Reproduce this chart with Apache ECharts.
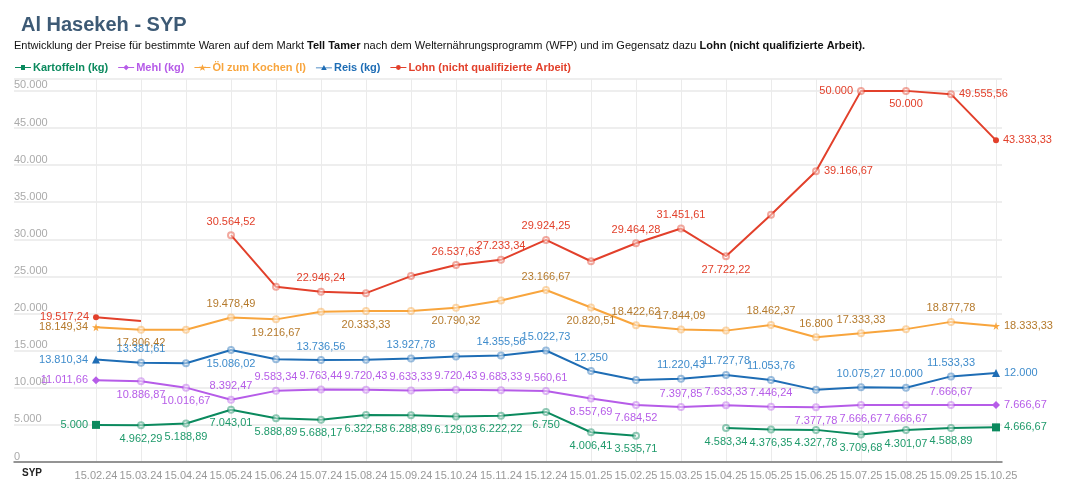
<!DOCTYPE html>
<html><head><meta charset="utf-8">
<script src="https://cdn.jsdelivr.net/npm/echarts@6/dist/echarts.min.js"></script>
<style>html,body{margin:0;padding:0;background:#fff}#c{width:1080px;height:491px}</style>
</head><body><div id="c"></div>
<script>
const categories = ['15.02.24','15.03.24','15.04.24','15.05.24','15.06.24','15.07.24','15.08.24','15.09.24','15.10.24','15.11.24','15.12.24','15.01.25','15.02.25','15.03.25','15.04.25','15.05.25','15.06.25','15.07.25','15.08.25','15.09.25','15.10.25'];
const kartoffeln = [5000,4962.29,5188.89,7043.01,5888.89,5688.17,6322.58,6288.89,6129.03,6222.22,6750,4006.41,3535.71,null,4583.34,4376.35,4327.78,3709.68,4301.07,4588.89,4666.67];
const mehl = [11011.66,10886.87,10016.67,8392.47,9583.34,9763.44,9720.43,9633.33,9720.43,9683.33,9560.61,8557.69,7684.52,7397.85,7633.33,7446.24,7377.78,7666.67,7666.67,7666.67,7666.67];
const oel = [18149.34,17806.42,17806,19478.49,19216.67,20250,20333.33,20333,20790.32,21770,23166.67,20820.51,18422.62,17844.09,17700,18462.37,16800,17333.33,17900,18877.78,18333.33];
const reis = [13810.34,13381.61,13300,15086.02,13850,13736.56,13780,13927.78,14230,14355.56,15022.73,12250,11050,11220.43,11727.78,11053.76,9720,10075.27,10000,11533.33,12000];
const lohn = [19517.24,19000,null,30564.52,23600,22946.24,22750,25050,26537.63,27233.34,29924.25,27050,29464.28,31451.61,27722.22,33300,39166.67,50000,50000,49555.56,43333.33];
// label placement per point ('' = no label)
const posK = ['l','b','b','b','b','b','b','b','b','b','b','b','b','','b','b','b','b','b','b','r'];
const posM = ['l','b','b','t','t','t','t','t','t','t','t','b','b','t','t','t','b','b','b','t','r'];
const posO = ['l','b','','t','b','','b','','b','','t','b','t','t','','t','t','t','','t','r'];
const posR = ['l','t','','b','','t','','t','','t','t','t','','t','t','t','','t','t','t','r'];
const posL = ['l','','','t','','t','','','t','t','t','','t','t','b','','r','l','b','r','r'];

function fmt(v){
  const neg=v<0; v=Math.abs(v);
  let s = (Math.round(v*100)/100).toFixed(2);
  let [i,d]=s.split('.');
  i=i.replace(/\B(?=(\d{3})+(?!\d))/g,'.');
  return (neg?'-':'')+i+(d==='00'?'':','+d);
}
const P={t:'top',b:'bottom',l:'left',r:'right'};
function build(vals,pos,lineColor,labelColor,endSym){
  return vals.map((v,i)=>{
    if(v==null) return null;
    const o={value:v};
    const p=pos[i];
    o.label={show:!!p,position:P[p]||'top',color:labelColor,opacity:1};
    if(i===0||i===vals.length-1){o.symbol=endSym;o.symbolSize=endSym==='circle'?6:8;o.itemStyle={color:lineColor,opacity:1};}
    else if(i===1 && vals[2]==null){o.symbol='none';}
    return o;
  });
}
const LINE='M0,9L40,9L40,11L0,11Z ';
const icons={
  rect:'path://'+LINE+'M15,4L25,4L25,16L15,16Z',
  diamond:'path://'+LINE+'M20,3L27,10L20,17L13,10Z',
  star:'path://'+LINE+'M20,2L22.5,8L29,8L24,12L26,18L20,14.5L14,18L16,12L11,8L17.5,8Z',
  triangle:'path://'+LINE+'M20,3L27,15L13,15Z',
  circle:'path://'+LINE+'M20,4A6,6 0 1,1 19.99,4Z'
};
const STAR='path://M50,0L61,35L98,35L68,57L79,91L50,70L21,91L32,57L2,35L39,35Z';
const defs=[
  {name:'Kartoffeln (kg)',d:kartoffeln,p:posK,c:'#0b8a5e',lc:'#1f9a6b',s:'rect',i:icons.rect},
  {name:'Mehl (kg)',d:mehl,p:posM,c:'#b65ce8',lc:'#b65ce8',s:'diamond',i:icons.diamond},
  {name:'Öl zum Kochen (l)',d:oel,p:posO,c:'#f8a53d',lc:'#b57a2c',s:STAR,i:icons.star},
  {name:'Reis (kg)',d:reis,p:posR,c:'#1e6db5',lc:'#3f8ccc',s:'triangle',i:icons.triangle},
  {name:'Lohn (nicht qualifizierte Arbeit)',d:lohn,p:posL,c:'#e2402b',lc:'#e2402b',s:'circle',i:icons.circle}
];
const series=defs.map(s=>({
  name:s.name,type:'line',xAxisIndex:1,yAxisIndex:1,
  data:build(s.d,s.p,s.c,s.lc,s.s),
  symbol:'emptyCircle',symbolSize:6,showAllSymbol:true,
  itemStyle:{color:s.c,opacity:0.45},
  lineStyle:{color:s.c,width:2},
  label:{fontSize:11,fontFamily:'Liberation Sans',formatter:p=>fmt(p.value),distance:4,opacity:1},
  emphasis:{disabled:true}
}));
const yCommon={type:'value',min:0,max:51600,interval:5000};
const chart=echarts.init(document.getElementById('c'));
chart.setOption({
  animation:false,
  textStyle:{fontFamily:'Liberation Sans'},
  title:{text:'Al Hasekeh - SYP',left:16,top:10,textStyle:{fontSize:20,fontWeight:'bold',color:'#3d5a75',fontFamily:'Liberation Sans'}},
  graphic:[
    {type:'text',left:14,top:40,style:{rich:{n:{fontSize:11,fill:'#111',fontFamily:'Liberation Sans'},b:{fontSize:11,fill:'#111',fontWeight:'bold',fontFamily:'Liberation Sans'}},text:'{n|Entwicklung der Preise für bestimmte Waren auf dem Markt }{b|Tell Tamer}{n| nach dem Welternährungsprogramm (WFP) und im Gegensatz dazu }{b|Lohn (nicht qualifizierte Arbeit).}'}},
    {type:'text',left:22,top:468,style:{text:'SYP',fontSize:10,fontWeight:'bold',fill:'#222',fontFamily:'Liberation Sans'}}
  ],
  legend:{left:10,top:57,itemGap:10,itemWidth:16,itemHeight:8,
    data:defs.map(s=>({name:s.name,icon:s.i,itemStyle:{opacity:1,color:s.c},textStyle:{color:s.c,fontWeight:'bold',fontSize:11}})),
    textStyle:{fontSize:11,fontWeight:'bold',padding:[0,0,0,-3]}},
  grid:[
    {left:14,right:78,top:79,bottom:29},
    {left:96,right:84,top:79,bottom:29}
  ],
  xAxis:[
    {gridIndex:0,type:'category',data:[''],boundaryGap:false,axisLine:{lineStyle:{color:'#777',width:1.5}},axisTick:{show:false},axisLabel:{show:false},splitLine:{show:false}},
    {gridIndex:1,type:'category',data:categories,boundaryGap:false,axisLine:{show:false},axisTick:{show:false},
      axisLabel:{color:'#999',fontSize:11,margin:8,interval:0},splitLine:{show:true,lineStyle:{color:'#ebebeb'}}}
  ],
  yAxis:[
    Object.assign({gridIndex:0,axisLine:{show:false},axisTick:{show:false},
      axisLabel:{inside:true,color:'#aaa',fontSize:11,verticalAlign:'bottom',margin:0,formatter:v=>fmt(v),showMaxLabel:false},
      splitLine:{lineStyle:{color:'#e8e8e8',width:1.5}}},yCommon),
    Object.assign({gridIndex:1,show:false,splitLine:{show:false}},yCommon)
  ],
  series:series
});
</script></body></html>
